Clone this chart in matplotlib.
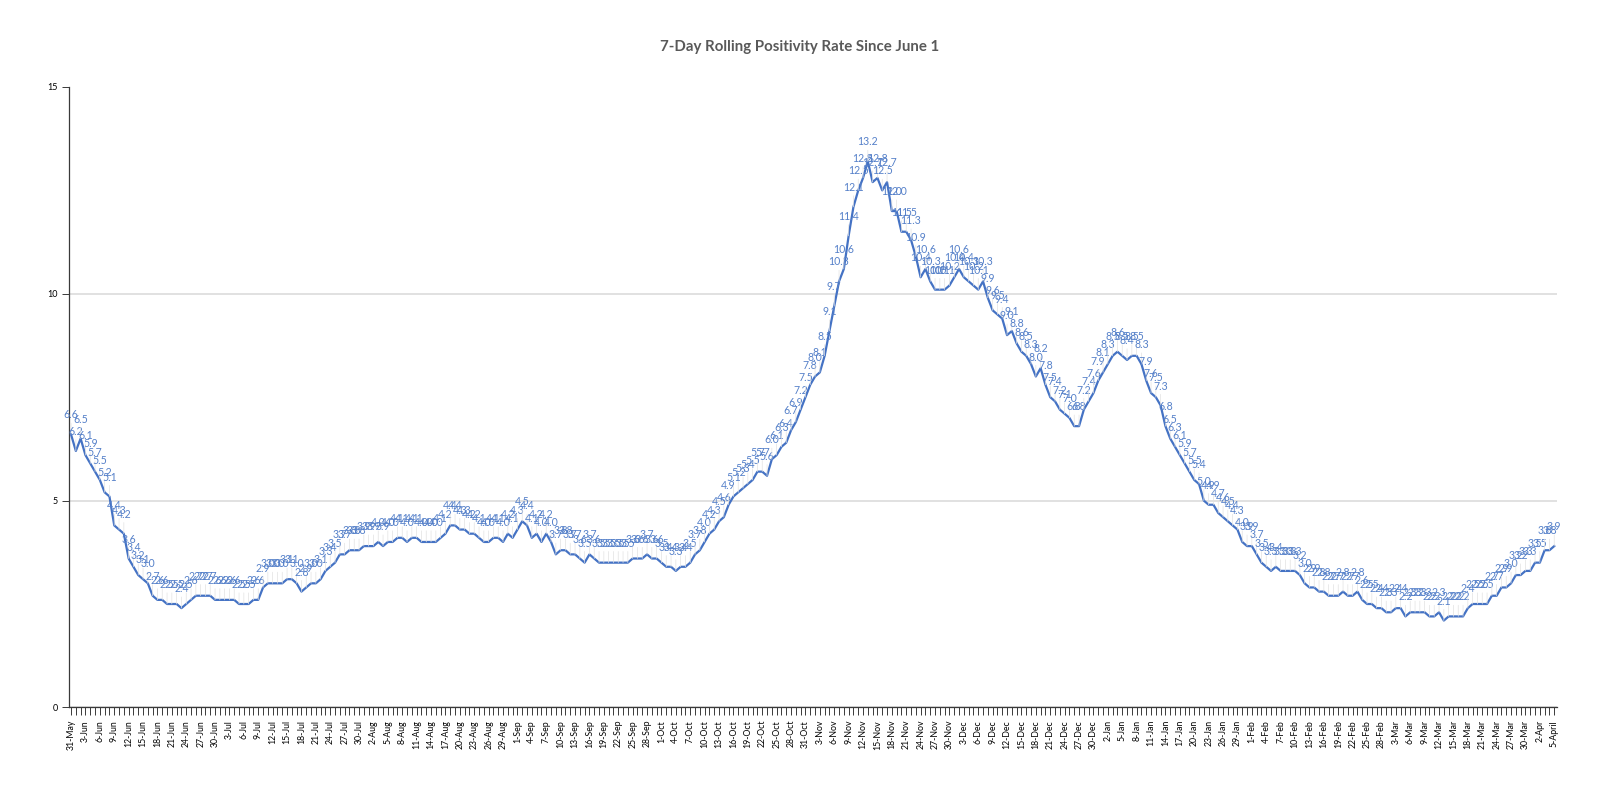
import numpy as np
import pandas as pd
import matplotlib
matplotlib.use('Agg')
import matplotlib.pyplot as plt

# 7-day rolling positivity rate, one value per day from 31-May to 5-April
start_date = '2020-05-31'
positivity = [
    6.6, 6.2, 6.5, 6.1, 5.9, 5.7, 5.5, 5.2, 5.1, 4.4,
    4.3, 4.2, 3.6, 3.4, 3.2, 3.1, 3.0, 2.7, 2.6, 2.6,
    2.5, 2.5, 2.5, 2.4, 2.5, 2.6, 2.7, 2.7, 2.7, 2.7,
    2.6, 2.6, 2.6, 2.6, 2.6, 2.5, 2.5, 2.5, 2.6, 2.6,
    2.9, 3.0, 3.0, 3.0, 3.0, 3.1, 3.1, 3.0, 2.8, 2.9,
    3.0, 3.0, 3.1, 3.3, 3.4, 3.5, 3.7, 3.7, 3.8, 3.8,
    3.8, 3.9, 3.9, 3.9, 4.0, 3.9, 4.0, 4.0, 4.1, 4.1,
    4.0, 4.1, 4.1, 4.0, 4.0, 4.0, 4.0, 4.1, 4.2, 4.4,
    4.4, 4.3, 4.3, 4.2, 4.2, 4.1, 4.0, 4.0, 4.1, 4.1,
    4.0, 4.2, 4.1, 4.3, 4.5, 4.4, 4.1, 4.2, 4.0, 4.2,
    4.0, 3.7, 3.8, 3.8, 3.7, 3.7, 3.6, 3.5, 3.7, 3.6,
    3.5, 3.5, 3.5, 3.5, 3.5, 3.5, 3.5, 3.6, 3.6, 3.6,
    3.7, 3.6, 3.6, 3.5, 3.4, 3.4, 3.3, 3.4, 3.4, 3.5,
    3.7, 3.8, 4.0, 4.2, 4.3, 4.5, 4.6, 4.9, 5.1, 5.2,
    5.3, 5.4, 5.5, 5.7, 5.7, 5.6, 6.0, 6.1, 6.3, 6.4,
    6.7, 6.9, 7.2, 7.5, 7.8, 8.0, 8.1, 8.5, 9.1, 9.7,
    10.3, 10.6, 11.4, 12.1, 12.5, 12.8, 13.2, 12.7, 12.8, 12.5,
    12.7, 12.0, 12.0, 11.5, 11.5, 11.3, 10.9, 10.4, 10.6, 10.3,
    10.1, 10.1, 10.1, 10.2, 10.4, 10.6, 10.4, 10.3, 10.2, 10.1,
    10.3, 9.9, 9.6, 9.5, 9.4, 9.0, 9.1, 8.8, 8.6, 8.5,
    8.3, 8.0, 8.2, 7.8, 7.5, 7.4, 7.2, 7.1, 7.0, 6.8,
    6.8, 7.2, 7.4, 7.6, 7.9, 8.1, 8.3, 8.5, 8.6, 8.5,
    8.4, 8.5, 8.5, 8.3, 7.9, 7.6, 7.5, 7.3, 6.8, 6.5,
    6.3, 6.1, 5.9, 5.7, 5.5, 5.4, 5.0, 4.9, 4.9, 4.7,
    4.6, 4.5, 4.4, 4.3, 4.0, 3.9, 3.9, 3.7, 3.5, 3.4,
    3.3, 3.4, 3.3, 3.3, 3.3, 3.3, 3.2, 3.0, 2.9, 2.9,
    2.8, 2.8, 2.7, 2.7, 2.7, 2.8, 2.7, 2.7, 2.8, 2.6,
    2.5, 2.5, 2.4, 2.4, 2.3, 2.3, 2.4, 2.4, 2.2, 2.3,
    2.3, 2.3, 2.3, 2.2, 2.2, 2.3, 2.1, 2.2, 2.2, 2.2,
    2.2, 2.4, 2.5, 2.5, 2.5, 2.5, 2.7, 2.7, 2.9, 2.9,
    3.0, 3.2, 3.2, 3.3, 3.3, 3.5, 3.5, 3.8, 3.8, 3.9,
]
y_ticks = [0, 5, 10, 15]
label_every = 3

dates = pd.date_range(start_date, periods=len(positivity), freq='D')
day_labels = [f"{d.day}-{d.strftime('%b')}" for d in dates]
day_labels[-1] = '5-April'
x = np.arange(len(positivity))

fig = plt.figure(figsize=(16, 7.92), dpi=100)
ax = fig.add_axes([0.0429, 0.1068, 0.93, 0.7834])

ax.plot(x, positivity, color='#4472C4', linewidth=1.6, zorder=3)

# data labels sit above each point, with a faint leader line down to it
for xi, v in zip(x, positivity):
    ax.annotate(f'{v:.1f}', xy=(xi, v), xytext=(0, 14), textcoords='offset points',
                ha='center', va='center', fontsize=7.6, color='#5580c9', family='Lato',
                zorder=4,
                arrowprops=dict(arrowstyle='-', color='#e2e2e2', lw=0.5,
                                shrinkA=0, shrinkB=0))

ax.set_xlim(-0.5, len(positivity) - 0.5)
ax.set_ylim(0, 15)
ax.set_yticks(y_ticks)
ax.set_yticklabels([str(t) for t in y_ticks], fontsize=6.5, family='Lato')
ax.set_xticks(x)
ax.set_xticklabels([lab if i % label_every == 0 else '' for i, lab in enumerate(day_labels)],
                   rotation=90, fontsize=6.3, family='Lato')

ax.yaxis.grid(True, color='#d9d9d9', linewidth=1.1)
ax.get_ygridlines()[-1].set_visible(False)
ax.set_axisbelow(True)

for side in ['top', 'right']:
    ax.spines[side].set_visible(False)
for side in ['left', 'bottom']:
    ax.spines[side].set_color('#3a3a3a')
    ax.spines[side].set_linewidth(0.9)
ax.tick_params(axis='x', length=6, width=0.7, color='#3a3a3a', pad=3)
ax.tick_params(axis='y', length=5, width=0.7, color='#3a3a3a', pad=3)

fig.text(0.5, 0.941, '7-Day Rolling Positivity Rate Since June 1', ha='center', va='center',
         fontsize=10.8, fontweight='bold', color='#595959', family='Lato')

plt.savefig('out.png', dpi=100)
plt.close()
